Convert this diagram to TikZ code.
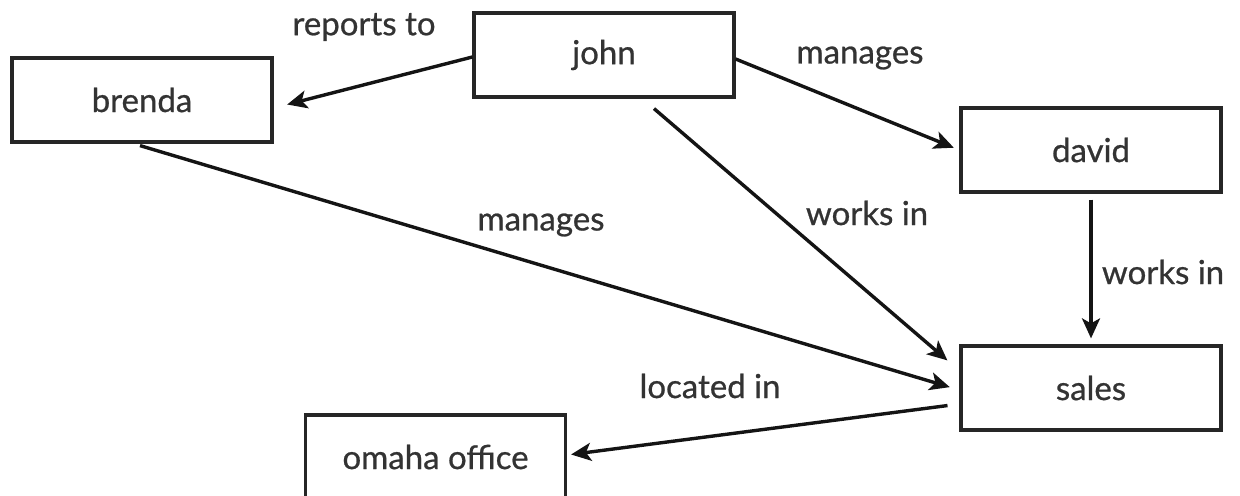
\documentclass[tikz,border=0pt]{standalone}
\usepackage{fontspec}
\setmainfont{Lato}
\newfontfamily\diagfont{Lato}[FakeBold=0.7]
\usetikzlibrary{arrows.meta,calc}
\begin{document}
\begin{tikzpicture}[x=0.5pt,y=-0.5pt,
  entity/.style={draw=black!85, line width=1.6pt, fill=white,
    minimum width=130pt, minimum height=42pt, inner sep=0pt,
    font=\diagfont\fontsize{16.5}{19}\selectfont, text=black!80},
  rel/.style={line width=1.7pt, draw=black!92,
    -{Stealth[length=10pt,width=9pt,inset=2.5pt]}},
  lbl/.style={font=\diagfont\fontsize{16.5}{19}\selectfont, text=black!80, inner sep=0pt}]
\useasboundingbox (0,0) rectangle (1240,496);
\clip (0,0) rectangle (1240,496);

% entities
\node[entity] (john)   at (604,55)  {john};
\node[entity] (brenda) at (142,100) {brenda};
\node[entity] (david)  at (1091,150) {david};
\node[entity] (sales)  at (1091,388) {sales};
\node[entity] (omaha)  at (435.5,457) {omaha office};

% relations
\draw[rel, shorten >=7pt] ([yshift=-1pt]john.west) -- ([yshift=-4pt]brenda.east);
\draw[rel, shorten >=3pt] ([yshift=-2pt]john.east) -- (david.west);
\draw[rel] ([xshift=25pt,yshift=-5pt]john.south)
  -- ([xshift=-6pt,yshift=-8pt]sales.north west);
\draw[rel, shorten >=5pt] ([xshift=-1pt,yshift=-1pt]brenda.south) -- ([yshift=-1pt]sales.west);
\draw[rel, shorten <=3pt, shorten >=3pt] (david.south) -- (sales.north);
\draw[rel, shorten <=6pt, shorten >=2pt] ([yshift=-8pt]sales.west) -- ([yshift=1pt]omaha.east);

% relation labels
\node[lbl] (l1) at (364,27)  {reports to};
\node[lbl] (l2) at (860,58)  {manages};
\node[lbl] (l3) at (541,225) {manages};
\node[lbl] (l4) at (867,213) {works in};
\node[lbl] (l5) at (1163,272) {works in};
\node[lbl] (l6) at (710,386) {located in};
\end{tikzpicture}
\end{document}
